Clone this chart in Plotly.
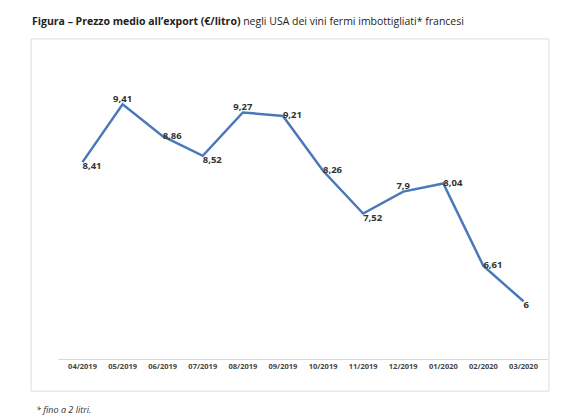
import plotly.graph_objects as go

mesi = ["04/2019", "05/2019", "06/2019", "07/2019", "08/2019", "09/2019",
        "10/2019", "11/2019", "12/2019", "01/2020", "02/2020", "03/2020"]
prezzi = [8.41, 9.41, 8.86, 8.52, 9.27, 9.21, 8.26, 7.52, 7.9, 8.04, 6.61, 6]
etichette = [f"<b>{v:g}</b>".replace(".", ",") for v in prezzi]
posizioni = ["bottom right", "top center", "middle right", "bottom right", "top center",
             "middle right", "middle right", "bottom right", "top center", "middle right",
             "middle right", "bottom right"]

fig = go.Figure(go.Scatter(
    x=mesi, y=prezzi, mode="lines+text", text=etichette, textposition=posizioni,
    line=dict(color="#4a78b8", width=2.5),
    textfont=dict(family="Open Sans", size=9.5, color="#333333"),
    cliponaxis=False,
))

fig.add_shape(type="rect", xref="paper", yref="paper", x0=-0.055, x1=1.002, y0=-0.105, y1=1.046,
              line=dict(color="#dddddd", width=1))

fig.add_annotation(text="<b>Figura – Prezzo medio all’export (€/litro)</b> negli USA dei vini fermi imbottigliati* francesi",
                   xref="paper", yref="paper", x=-0.057, y=1.075, xanchor="left", yanchor="bottom",
                   showarrow=False, font=dict(family="Open Sans", size=10.5, color="#222"))
fig.add_annotation(text="<i>* fino a 2 litri.</i>", xref="paper", yref="paper", x=-0.05, y=-0.165,
                   xanchor="left", yanchor="middle", showarrow=False,
                   font=dict(family="Open Sans", size=9, color="#333"))
fig.add_annotation(text="<i>Fonte: Nomisma Wine Monitor su dati Eurostat</i>", xref="paper", yref="paper",
                   x=-0.055, y=-0.212, xanchor="left", yanchor="middle", showarrow=False,
                   font=dict(family="Open Sans", size=9, color="#333"))

fig.update_layout(
    width=576, height=416, paper_bgcolor="white", plot_bgcolor="white",
    margin=dict(l=50, r=36, t=45, b=65), showlegend=False,
    xaxis=dict(showline=True, linecolor="#d9d9d9", ticks="", showgrid=False,
               tickfont=dict(family="Open Sans", size=7.5, color="#444"), tickangle=0,
               tickprefix="<b>", ticksuffix="</b>"),
    yaxis=dict(range=[5, 10.3], visible=False),
)
fig.write_html("out.html")
